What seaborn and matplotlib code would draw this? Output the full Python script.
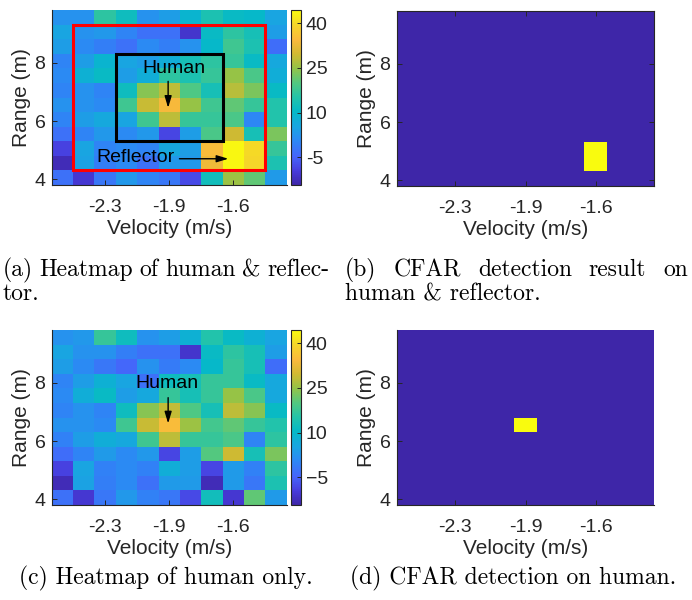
import numpy as np
import matplotlib
matplotlib.use("Agg")
import matplotlib.pyplot as plt
import seaborn as sns
from matplotlib.colors import LinearSegmentedColormap
from matplotlib.patches import Rectangle

# bin centres
velocity = [-2.51, -2.40, -2.28, -2.16, -2.05, -1.93, -1.81, -1.70, -1.58, -1.46, -1.35]
range_m = [9.56, 9.06, 8.56, 8.06, 7.56, 7.06, 6.56, 6.06, 5.56, 5.06, 4.56, 4.06]
vel_tick_bins = [2, 5, 8]
range_ticks = [8, 6, 4]
cbar_ticks = [40, 25, 10, -5]
vmin, vmax = -14.4, 44.5

# heatmap values (dB), rows from top (far range) to bottom
heat_reflector = [
    [2, 2, 16, 12, 2, 4, 9, 14, 11, 10, 5],
    [5, 2, 3, 0, -3, -3, -11, 11, 16, 13, 4],
    [4, 1, -1, -3, 1, -1, 2, 10, 18, 14, -3.5],
    [0, 4, 9, 5, 4, 7, 13, 16, 17, 11, 6],
    [1, 8, 11, 4, 7, 16, 14, 17, 25, 19, 7],
    [0, 2, 0, 12, 24, 28, 19.5, 13, 27.5, 23, 11],
    [2, 2, 1, 18, 29, 34, 25, 18, 21, 17, 15],
    [0, 4, 6, 5, 18, 28, 17, 17, 19, 0.5, 15],
    [-3, 0, 3, 1, 3, -8.5, 4, 19, 29.5, 13, 23],
    [-9, 5, 0, 1, 0, 6, 4, 35, 44, 40, 17],
    [-13, 4.5, -1, 1, -3, 3, 3, 33, 44, 39.5, 14],
    [-3, -10.5, -2, 3, 0, -2, -8, 12.5, 25.5, 21, 3.5],
]
heat_human = [
    [2, 3, 17, 12, 2, 4, 8, 15, 11, 8, 5],
    [5, 2, 2, -1, -3, -3, -11, 11, 16, 13, 4],
    [4, 1, -2, -4.5, 2, -1.5, 1, 10, 17, 13, -3.5],
    [0, 4, 8, 5, -3, 12, 13, 17, 17, 11, 6],
    [1, 7, 11, 4, 6, 17, 13, 17, 25, 19, 6],
    [0, 2, 0, 12, 24, 28.5, 19.5, 13, 28, 24, 11],
    [2, 2, 1, 18, 29, 35, 25.5, 18.5, 21, 17, 15],
    [-0.5, 4, 7, 6, 18, 28, 17, 17, 19, 0, 16],
    [-3.5, 0, 3.5, 1, 3, -8.5, 4, 20, 29.5, 13, 23],
    [-9, 5, -0.5, 1, -0.5, 7, 4, -8.5, 3.5, -0.5, 16],
    [-13, 4.5, -1, 1, -3, 3.5, 3.5, -13, 3.5, -2, 14],
    [-3, -10.5, -2, 3, -0.5, -2, -8, 12.5, -10.5, 21, 3.5],
]
# CFAR detections as (row, col) cells
cfar_reflector_hits = [(9, 8), (10, 8)]
cfar_human_hits = [(6, 5)]

parula = LinearSegmentedColormap.from_list("parula", [
    (0.00, "#3e26a8"), (0.08, "#473cdc"), (0.16, "#4664fa"), (0.25, "#2d87f5"),
    (0.33, "#19a5e1"), (0.42, "#05b9c8"), (0.50, "#23c3aa"), (0.58, "#50c882"),
    (0.67, "#96c346"), (0.75, "#d2b932"), (0.83, "#fab93c"), (0.92, "#f5d728"),
    (1.00, "#f9fb0e")])

W, H = 692, 600
TXT = "#262626"
plt.rcParams["font.family"] = ["Liberation Sans", "DejaVu Sans"]
plt.rcParams["font.size"] = 14


def frac(x0, y0, x1, y1):
    # pixel box -> figure fraction [left, bottom, width, height]
    return [x0 / W, 1 - y1 / H, (x1 - x0) / W, (y1 - y0) / H]


res = range_m[0] - range_m[1]
top_edge = range_m[0] + res / 2


def style_axes(ax, box=False):
    ax.set_xticks([b + 0.5 for b in vel_tick_bins])
    ax.set_xticklabels([f"{velocity[b]:.1f}" for b in vel_tick_bins])
    ax.set_yticks([(top_edge - r) / res for r in range_ticks])
    ax.set_yticklabels([str(r) for r in range_ticks], rotation=0)
    plt.setp(ax.get_xticklabels(), rotation=0)
    for side in ["left", "bottom", "top", "right"]:
        on = box or side in ("left", "bottom")
        ax.spines[side].set_visible(on)
        ax.spines[side].set_color(TXT)
        ax.spines[side].set_linewidth(0.8)
    ax.tick_params(direction="in", length=3.5, width=0.7, color=TXT, labelcolor=TXT,
                   labelsize=14, top=box, right=box)
    ax.tick_params(axis="x", pad=10)
    ax.tick_params(axis="y", pad=4.5)
    ax.set_xlabel("Velocity (m/s)", color=TXT, fontsize=15, labelpad=2.5)
    ax.set_ylabel("Range (m)", color=TXT, fontsize=15, labelpad=2.5)


def heat_panel(ax, cax, data, minus):
    sns.heatmap(np.array(data), ax=ax, cmap=parula, vmin=vmin, vmax=vmax,
                cbar_ax=cax, xticklabels=False, yticklabels=False)
    style_axes(ax)
    cb = ax.collections[0].colorbar
    cb.set_ticks(cbar_ticks)
    cb.set_ticklabels([str(t).replace("-", minus) for t in cbar_ticks])
    cb.outline.set_edgecolor(TXT)
    cb.outline.set_linewidth(0.8)
    cax.tick_params(direction="in", length=3, width=0.7, color=TXT, labelcolor=TXT,
                    labelsize=14, pad=3.5)


def cfar_panel(ax, hits, box):
    grid = np.zeros((len(range_m), len(velocity)))
    for r, c in hits:
        grid[r, c] = 1
    sns.heatmap(grid, ax=ax, cmap=parula, vmin=0, vmax=1, cbar=False,
                xticklabels=False, yticklabels=False)
    style_axes(ax, box=box)


fig = plt.figure(figsize=(W / 100, H / 100), dpi=100)
arrow = dict(arrowstyle="-|>,head_length=0.5,head_width=0.15", color="black", lw=1)

ax_a = fig.add_axes(frac(51.7, 10, 286.7, 185))
cax_a = fig.add_axes(frac(291, 10, 301, 185))
heat_panel(ax_a, cax_a, heat_reflector, "-")
ax_a.add_patch(Rectangle((1, 1), 9, 10, fill=False, ec="#ff0000", lw=2.2))
ax_a.add_patch(Rectangle((3, 3), 5, 6, fill=False, ec="black", lw=2.2))
ax_a.text(5.7, 4.0, "Human", ha="center", va="center", fontsize=14, color="black")
ax_a.annotate("", xy=(5.45, 6.9), xytext=(5.45, 4.7), arrowprops=arrow)
ax_a.text(3.9, 10.1, "Reflector", ha="center", va="center", fontsize=14, color="black")
ax_a.annotate("", xy=(8.4, 10.2), xytext=(5.85, 10.2), arrowprops=arrow)

ax_b = fig.add_axes(frac(396.7, 11, 654.3, 186))
cfar_panel(ax_b, cfar_reflector_hits, box=True)

ax_c = fig.add_axes(frac(51.7, 330, 286.7, 505))
cax_c = fig.add_axes(frac(291, 330, 301, 505))
heat_panel(ax_c, cax_c, heat_human, "\u2212")
ax_c.text(5.4, 3.65, "Human", ha="center", va="center", fontsize=14, color="black")
ax_c.annotate("", xy=(5.45, 6.6), xytext=(5.45, 4.45), arrowprops=arrow)

ax_d = fig.add_axes(frac(396.7, 330, 654.3, 505))
cfar_panel(ax_d, cfar_human_hits, box=False)

cap_kw = dict(family=["cmr10", "DejaVu Serif"], fontsize=17, color="black", va="center")


def justified(text, x0, x1, y):
    words = text.split()
    arts = [fig.text(0, 1 - y / H, w, **cap_kw) for w in words]
    fig.canvas.draw()
    rend = fig.canvas.get_renderer()
    widths = [a.get_window_extent(rend).width for a in arts]
    gap = (x1 - x0 - sum(widths)) / (len(words) - 1)
    x = x0
    for a, w in zip(arts, widths):
        a.set_x(x / W)
        x += w + gap


justified("(a) Heatmap of human & reflec-", 3, 329, 270)
fig.text(3 / W, 1 - 294 / H, "tor.", **cap_kw)
justified("(b) CFAR detection result on", 345, 688, 270)
fig.text(345 / W, 1 - 294 / H, "human & reflector.", **cap_kw)
fig.text(166 / W, 1 - 578 / H, "(c) Heatmap of human only.", ha="center", **cap_kw)
fig.text(513 / W, 1 - 578 / H, "(d) CFAR detection on human.", ha="center", **cap_kw)

fig.savefig("out.png", dpi=100)
